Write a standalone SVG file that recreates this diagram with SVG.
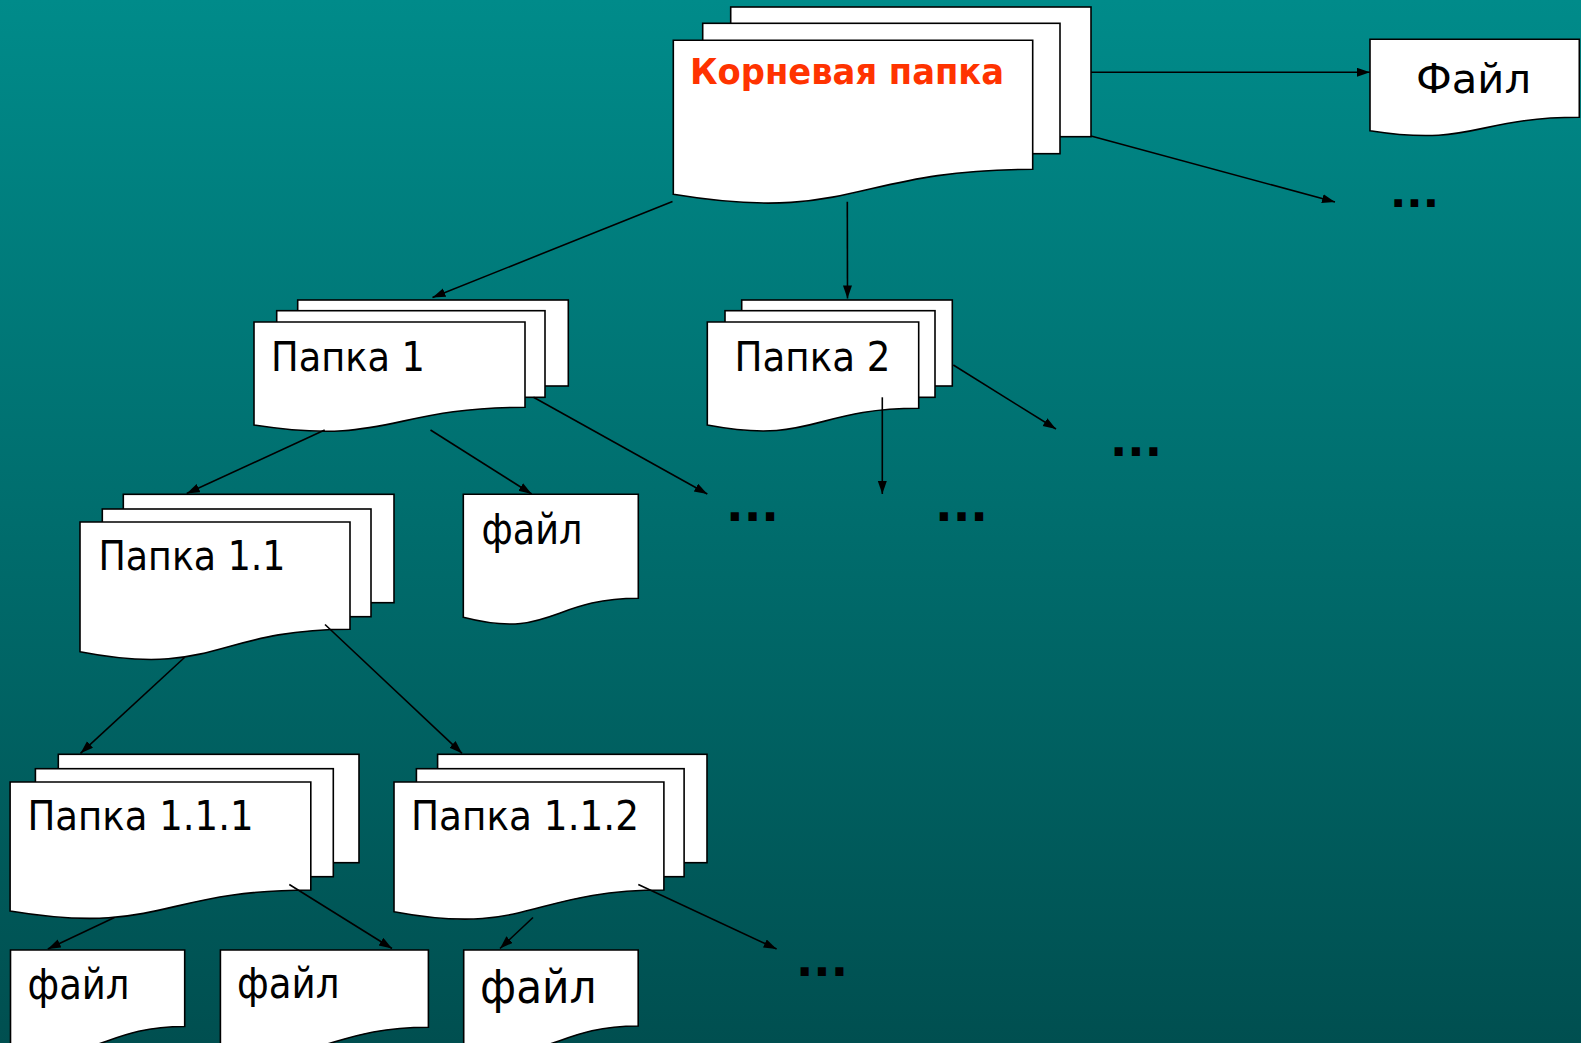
<svg xmlns="http://www.w3.org/2000/svg" width="1581" height="1043" viewBox="0 0 1581 1043">
<defs>
<linearGradient id="bg" x1="0" y1="0" x2="0" y2="1">
<stop offset="0" stop-color="#008B8A"/>
<stop offset="1" stop-color="#004F50"/>
</linearGradient>
<marker id="ah" markerUnits="userSpaceOnUse" markerWidth="14" markerHeight="10" refX="13" refY="4.5" orient="auto">
<path d="M0,0 L13,4.5 L0,9 Z" fill="#000"/>
</marker>
<style>
.sh{fill:#fff;stroke:#000;stroke-width:1.6}
.lb{font-family:"DejaVu Sans","Liberation Sans",sans-serif;font-size:41px;fill:#000}
.fl{font-family:"DejaVu Sans","Liberation Sans",sans-serif;font-size:42px;fill:#000}
.rt{font-family:"DejaVu Sans","Liberation Sans",sans-serif;font-size:36px;font-weight:bold;fill:#FF3300}
.dt{font-family:"DejaVu Sans","Liberation Sans",sans-serif;font-size:46px;font-weight:bold;fill:#000}
.cn line{stroke:#000;stroke-width:1.6;marker-end:url(#ah)}
</style>
</defs>
<rect x="0" y="0" width="1581" height="1043" fill="url(#bg)"/>

<g id="root">
<rect class="sh" x="730.7" y="7" width="360.3" height="129.7"/>
<rect class="sh" x="702.7" y="23.3" width="357.3" height="130.4"/>
<path class="sh" d="M673.3,40.3 H1032.7 V169.3 C853,169.3 853,224 673.3,194.3 Z"/>
<text class="rt" x="690" y="83.5" textLength="314" lengthAdjust="spacingAndGlyphs">Корневая папка</text>
</g>

<g id="file-top">
<path class="sh" d="M1370,39.3 H1579.3 V117.3 C1474.6,117.3 1474.6,147 1370,130.7 Z"/>
<text class="lb" x="1416" y="93.3" textLength="115" lengthAdjust="spacingAndGlyphs">Файл</text>
</g>

<g id="folder1">
<rect class="sh" x="297.7" y="300" width="270.6" height="86"/>
<rect class="sh" x="276.7" y="310.7" width="268.3" height="86.6"/>
<path class="sh" d="M254,322 H525 V407.3 C389.5,407.3 389.5,446 254,425 Z"/>
<text class="lb" x="271" y="371" textLength="154" lengthAdjust="spacingAndGlyphs">Папка 1</text>
</g>

<g id="folder2">
<rect class="sh" x="741.7" y="300" width="210.6" height="86"/>
<rect class="sh" x="725" y="310.7" width="210" height="86.6"/>
<path class="sh" d="M707.3,322 H918.7 V408.3 C813,408.3 813,445 707.3,425 Z"/>
<text class="lb" x="734.5" y="371" textLength="156" lengthAdjust="spacingAndGlyphs">Папка 2</text>
</g>

<g id="folder11">
<rect class="sh" x="123.3" y="494.3" width="270.7" height="108.4"/>
<rect class="sh" x="102.3" y="509" width="268.7" height="107.7"/>
<path class="sh" d="M80,522 H350 V629.3 C215,629.3 215,678 80,651.7 Z"/>
<text class="lb" x="98.5" y="570" textLength="187" lengthAdjust="spacingAndGlyphs">Папка 1.1</text>
</g>

<g id="file1">
<path class="sh" d="M463.3,494.3 H638.3 V598.3 C550.8,598.3 550.8,640 463.3,617.3 Z"/>
<text class="fl" x="481.5" y="544" textLength="101" lengthAdjust="spacingAndGlyphs">файл</text>
</g>

<g id="folder111">
<rect class="sh" x="58.3" y="754.3" width="300.7" height="108.4"/>
<rect class="sh" x="35.4" y="768.7" width="297.9" height="108"/>
<path class="sh" d="M10.1,782 H310.8 V890 C160.5,890 160.5,936 10.1,911 Z"/>
<text class="lb" x="27.5" y="830" textLength="226" lengthAdjust="spacingAndGlyphs">Папка 1.1.1</text>
</g>

<g id="folder112">
<rect class="sh" x="437.6" y="754.3" width="269.4" height="108.4"/>
<rect class="sh" x="416.4" y="768.7" width="267.7" height="108"/>
<path class="sh" d="M394,782 H663.9 V890 C529,890 529,937 394,911.7 Z"/>
<text class="lb" x="411" y="830" textLength="228" lengthAdjust="spacingAndGlyphs">Папка 1.1.2</text>
</g>

<g id="file111a">
<path class="sh" d="M10.5,950 H184.7 V1026.5 C97.6,1026.5 97.6,1068 10.5,1045 Z"/>
<text class="fl" x="27.5" y="998.7" textLength="102" lengthAdjust="spacingAndGlyphs">файл</text>
</g>

<g id="file111b">
<path class="sh" d="M220.4,950 H428.4 V1027.3 C324.4,1027.3 324.4,1068 220.4,1046 Z"/>
<text class="fl" x="237" y="998.3" textLength="102.5" lengthAdjust="spacingAndGlyphs">файл</text>
</g>

<g id="file112">
<path class="sh" d="M463.7,950 H638.2 V1026 C551,1026 551,1067 463.7,1045 Z"/>
<text class="fl" x="480" y="1003.3" style="font-size:47px" textLength="116.5" lengthAdjust="spacingAndGlyphs">файл</text>
</g>

<g id="more">
<text class="dt" x="1390" y="206.7" style="font-size:41px" textLength="49" lengthAdjust="spacingAndGlyphs">...</text>
<text class="dt" x="726" y="520.7" textLength="53" lengthAdjust="spacingAndGlyphs">...</text>
<text class="dt" x="935" y="520.7" textLength="53" lengthAdjust="spacingAndGlyphs">...</text>
<text class="dt" x="1110" y="456" textLength="52" lengthAdjust="spacingAndGlyphs">...</text>
<text class="dt" x="796" y="976" textLength="52" lengthAdjust="spacingAndGlyphs">...</text>
</g>

<g id="connectors" class="cn">
<line x1="1091" y1="72.3" x2="1370" y2="72.3"/>
<line x1="1091" y1="136" x2="1335" y2="202"/>
<line x1="847.3" y1="201.7" x2="847.5" y2="298.5"/>
<line x1="672.5" y1="201.5" x2="432.5" y2="297.5"/>
<line x1="324.7" y1="430" x2="186.7" y2="493.5"/>
<line x1="430.5" y1="430" x2="531.7" y2="494"/>
<line x1="533.5" y1="397.3" x2="707.3" y2="494"/>
<line x1="882.3" y1="397.3" x2="882.3" y2="494"/>
<line x1="953.3" y1="365" x2="1056" y2="429"/>
<line x1="184.5" y1="657.5" x2="80.5" y2="753.3"/>
<line x1="325" y1="624.5" x2="462" y2="753.3"/>
<line x1="114.5" y1="917.5" x2="47.8" y2="949"/>
<line x1="289.3" y1="884.5" x2="392" y2="948.5"/>
<line x1="533" y1="917.5" x2="500" y2="948.5"/>
<line x1="638.3" y1="884.5" x2="776.6" y2="949"/>
</g>
</svg>
